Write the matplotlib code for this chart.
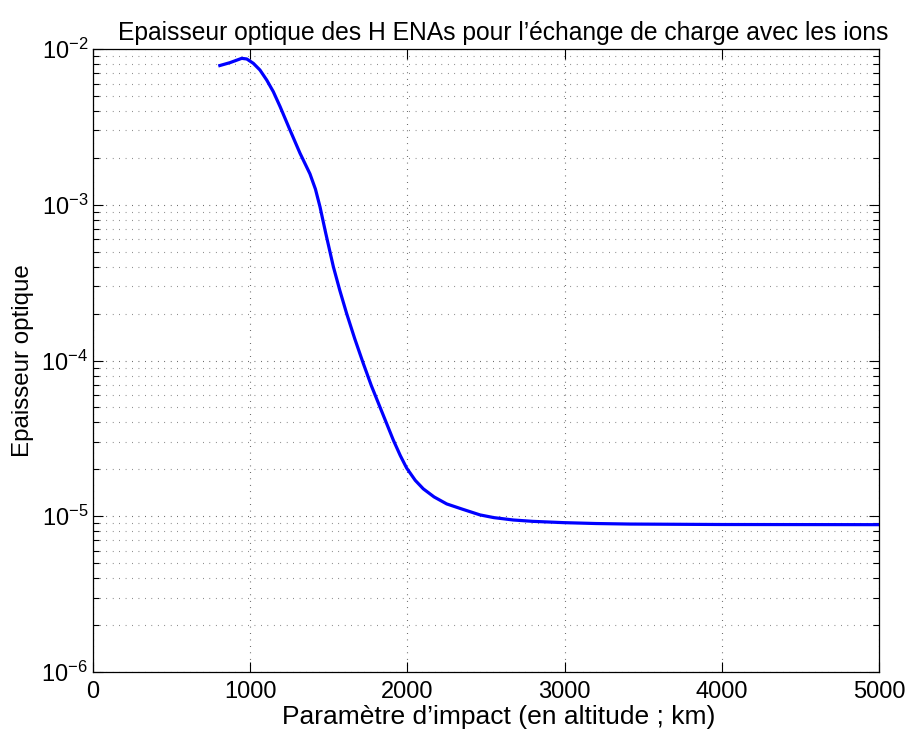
import numpy as np
import matplotlib
matplotlib.use('agg')
import matplotlib.pyplot as plt
from matplotlib.ticker import LogLocator, MultipleLocator, NullFormatter

# values (impact parameter in km, optical depth)
altitude = [797, 871, 946, 978, 1020, 1062, 1105, 1147, 1190, 1253, 1317, 1380,
            1415, 1444, 1480, 1529, 1570, 1613, 1665, 1719, 1770, 1826, 1870,
            1910, 1955, 1995, 2050, 2101, 2170, 2250, 2350, 2462, 2550, 2674,
            2800, 2992, 3200, 3416, 4000, 5000]
epaisseur = [7.78e-3, 8.17e-3, 8.71e-3, 8.63e-3, 8.09e-3, 7.33e-3, 6.32e-3,
             5.32e-3, 4.27e-3, 3.02e-3, 2.14e-3, 1.58e-3, 1.26e-3, 9.7e-4,
             6.6e-4, 4.0e-4, 2.82e-4, 2.01e-4, 1.38e-4, 9.6e-5, 6.92e-5, 5.01e-5,
             3.89e-5, 3.09e-5, 2.45e-5, 2.04e-5, 1.70e-5, 1.50e-5, 1.33e-5,
             1.20e-5, 1.11e-5, 1.02e-5, 9.8e-6, 9.46e-6, 9.27e-6, 9.1e-6,
             8.98e-6, 8.91e-6, 8.85e-6, 8.83e-6]

plt.rcParams['font.family'] = ['Liberation Sans', 'DejaVu Sans']
plt.rcParams['mathtext.default'] = 'regular'

fig = plt.figure(figsize=(9.1, 7.31), dpi=100)
ax = fig.add_axes([93/910, 59/731, 786/910, 623/731])

ax.semilogy(altitude, epaisseur, color=(0, 0, 1), lw=2.3,
            solid_joinstyle='round', solid_capstyle='butt')

ax.set_xlim(0, 5000)
ax.set_ylim(1e-6, 1e-2)
ax.xaxis.set_major_locator(MultipleLocator(1000))
ax.yaxis.set_major_locator(LogLocator(base=10, numticks=10))
ax.yaxis.set_minor_locator(LogLocator(base=10, subs=np.arange(2, 10), numticks=10))
ax.yaxis.set_minor_formatter(NullFormatter())

dots = (0, (0.6, 5.2))
ax.grid(True, which='major', linestyle=dots, color='0.15', lw=0.8)
ax.grid(True, which='minor', axis='y', linestyle=dots, color='0.35', lw=0.8)

ax.tick_params(which='both', direction='in', top=True, right=True, labelsize=17, width=0.8)
ax.tick_params(which='major', length=7)
ax.tick_params(which='minor', length=4)
ax.tick_params(axis='x', pad=6.5)
for s in ax.spines.values():
    s.set_linewidth(0.9)

# MATLAB export puts the texts a bit right of centre, so anchor them on the left
ax.text(0.0318, 1.006, "Epaisseur optique des H ENAs pour l\u2019\u00e9change de charge avec les ions",
        transform=ax.transAxes, ha='left', va='bottom', fontsize=17.7)
ax.set_xlabel("Param\u00e8tre d\u2019impact (en altitude ; km)", fontsize=19, ha='left')
ax.xaxis.set_label_coords(0.2405, -0.053)
ax.set_ylabel("Epaisseur optique", fontsize=17.4, labelpad=5)

plt.savefig('out.png', dpi=100)
